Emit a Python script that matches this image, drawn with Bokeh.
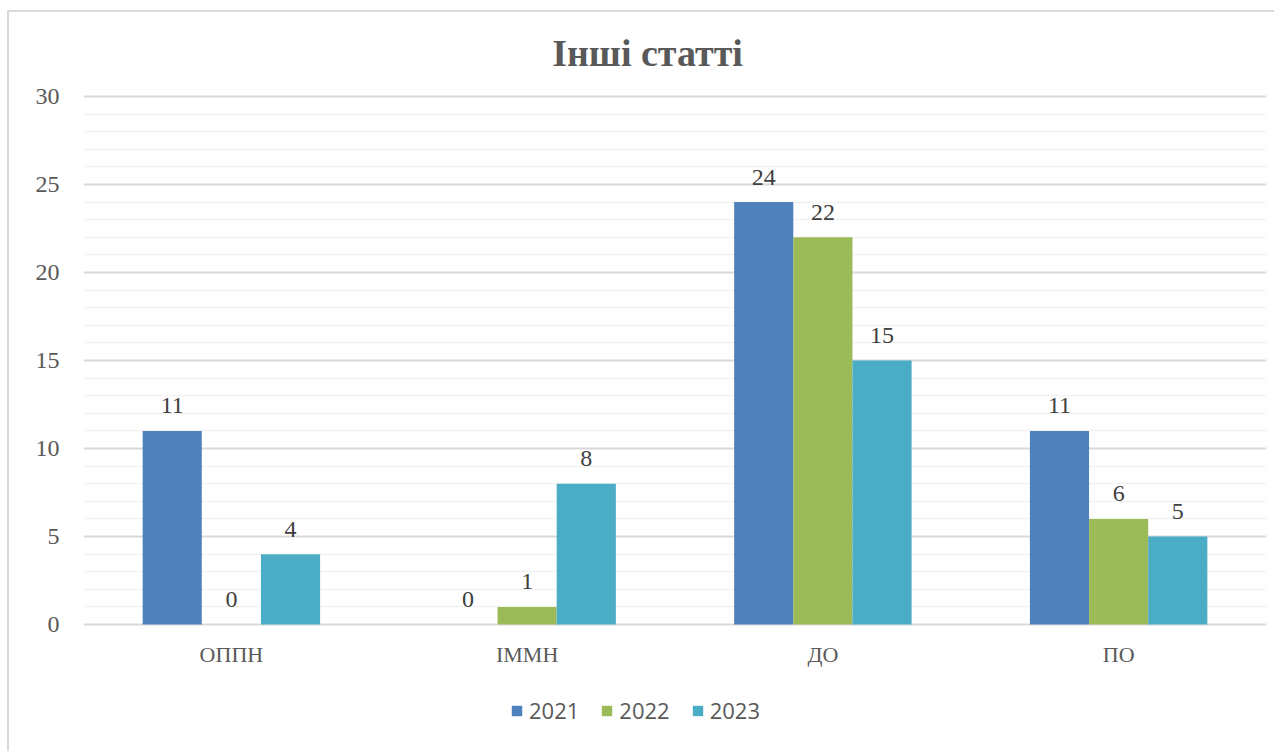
from bokeh.plotting import figure
from bokeh.models import (ColumnDataSource, FactorRange, Range1d, FixedTicker,
                          Legend, LegendItem, Label)
from bokeh.transform import dodge
from bokeh.core.properties import value
from bokeh.embed import file_html
from bokeh.resources import INLINE

# ---- data ----
categories = ["ОППН", "ІММН", "ДО", "ПО"]
years = ["2021", "2022", "2023"]
v2021 = [11, 0, 24, 11]
v2022 = [0, 1, 22, 6]
v2023 = [4, 8, 15, 5]
colors = ["#4F81BD", "#9BBB59", "#4BACC6"]
title_text = "Інші статті"
y_ticks = [0, 5, 10, 15, 20, 25, 30]
y_minor = [v for v in range(0, 31) if v not in y_ticks]

series = [v2021, v2022, v2023]
offsets = [-0.2, 0.0, 0.2]

data = {"cat": categories, "zero": [0] * len(categories)}
for y, vals in zip(years, series):
    data["v" + y] = vals
    data["t" + y] = [str(v) for v in vals]
source = ColumnDataSource(data)

p = figure(x_range=FactorRange(*categories), y_range=Range1d(-7.1, 34.66),
           width=1267, height=741, output_backend="svg", toolbar_location=None,
           title=None,
           min_border_left=74, min_border_right=10, min_border_top=2,
           min_border_bottom=4)
p.styles = {"border-left": "2px solid #d9d9d9", "border-top": "2px solid #d9d9d9",
            "margin-left": "7px", "margin-top": "10px"}
p.outline_line_color = None
p.background_fill_color = "white"
p.border_fill_color = "white"

title = Label(x=1.907, y=32.5, text=title_text, text_align="center",
              text_baseline="middle", text_font="Liberation Serif",
              text_font_style="bold", text_font_size="38px", text_color="#595959")
p.add_layout(title)

renderers = []
for y, off, c in zip(years, offsets, colors):
    r = p.vbar(x=dodge("cat", off, range=p.x_range), top="v" + y, width=0.2,
               source=source, fill_color=c, line_color=None)
    renderers.append(r)
    p.text(x=dodge("cat", off, range=p.x_range), y="v" + y, text="t" + y,
           source=source, text_align="center", text_baseline="middle",
           y_offset=-25, text_font=value("Liberation Serif"),
           text_font_size="24px", text_color="#404040")

# category labels under the zero line
p.text(x="cat", y="zero", text="cat", source=source, text_align="center",
       text_baseline="middle", y_offset=30, text_font=value("Liberation Serif"),
       text_font_size="22px", text_color="#595959")

# axes & grid
p.xaxis.visible = False
p.yaxis.ticker = FixedTicker(ticks=y_ticks, minor_ticks=y_minor)
p.yaxis.axis_line_color = None
p.yaxis.major_tick_line_color = None
p.yaxis.minor_tick_line_color = None
p.yaxis.major_tick_out = 0
p.yaxis.minor_tick_out = 0
p.yaxis.major_label_text_font = "Liberation Serif"
p.yaxis.major_label_text_font_size = "24px"
p.yaxis.major_label_text_color = "#595959"
p.yaxis.major_label_standoff = 24

p.xgrid.grid_line_color = None
p.ygrid.grid_line_color = "#d9d9d9"
p.ygrid.grid_line_width = 2
p.ygrid.minor_grid_line_color = "#f2f2f2"
p.ygrid.minor_grid_line_width = 1.5
p.ygrid.level = "underlay"

items = [LegendItem(label=y, renderers=[r]) for y, r in zip(years, renderers)]
legend = Legend(items=items, orientation="horizontal", location=(427, 24),
                glyph_width=13, glyph_height=13, label_standoff=6, spacing=21,
                padding=0, margin=0, border_line_color=None,
                background_fill_alpha=0,
                label_text_font="Open Sans", label_text_font_size="22px",
                label_text_color="#595959")
p.add_layout(legend)

open("out.html", "w").write(file_html(p, INLINE))
